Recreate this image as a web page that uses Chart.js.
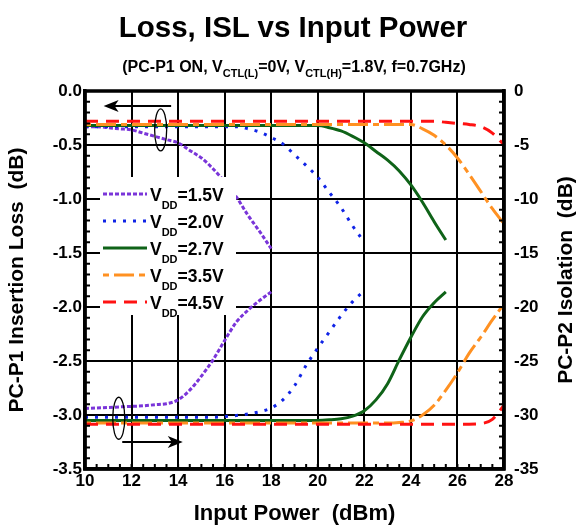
<!DOCTYPE html>
<html>
<head>
<meta charset="utf-8">
<script src="https://cdn.jsdelivr.net/npm/chart.js@4.4.0/dist/chart.umd.min.js"></script>
<style>
  html, body { margin: 0; padding: 0; background: #fff; }
  body { width: 580px; height: 527px; position: relative; overflow: hidden; font-family: "Liberation Sans", Arial, sans-serif; }
  #c { position: absolute; left: 0; top: 0; }
  .ttl { position: absolute; left: 0; width: 580px; text-align: center; font-weight: bold; color: #000; white-space: nowrap; line-height: 1; }
  #t1 { top: 12px; left: 3px; font-size: 29.5px; }
  #t2 { top: 59px; left: 4px; font-size: 16px; }
  #t2 sub { font-size: 11px; vertical-align: -5px; line-height: 0; }
</style>
</head>
<body>
<canvas id="c" width="580" height="527"></canvas>
<div class="ttl" id="t1">Loss, ISL vs Input Power</div>
<div class="ttl" id="t2">(PC-P1 ON, V<sub>CTL(L)</sub>=0V, V<sub>CTL(H)</sub>=1.8V, f=0.7GHz)</div>
<script>
// Input power (dBm)
const inputPower = [10, 10.5, 11, 11.5, 12, 12.5, 13, 13.5, 14, 14.5, 15, 15.5, 16, 16.5, 17, 17.5, 18, 18.5,
  19, 19.5, 20, 20.5, 21, 21.5, 22, 22.5, 23, 23.5, 24, 24.5, 25, 25.5, 26, 26.5, 27, 27.5, 28];

const vddLabels = ['1.5V', '2.0V', '2.7V', '3.5V', '4.5V'];

// PC-P1 insertion loss (dB), left axis
const loss15 = [-0.33, -0.33, -0.34, -0.35, -0.36, -0.39, -0.42, -0.45, -0.48, -0.55, -0.62, -0.72, -0.84, -0.98, -1.15, -1.30, -1.46];
const loss20 = [-0.33, -0.33, -0.33, -0.33, -0.33, -0.33, -0.33, -0.33, -0.33, -0.33, -0.33, -0.33, -0.33, -0.33,
  -0.35, -0.38, -0.43, -0.49, -0.59, -0.69, -0.80, -0.94, -1.08, -1.25, -1.40];
const loss27 = [-0.32, -0.32, -0.32, -0.32, -0.32, -0.32, -0.32, -0.32, -0.32, -0.32, -0.32, -0.32, -0.32, -0.32,
  -0.32, -0.32, -0.32, -0.32, -0.32, -0.32, -0.32, -0.34, -0.37, -0.42, -0.48, -0.56, -0.64, -0.74, -0.87, -1.03, -1.21, -1.38];
const loss35 = [-0.31, -0.31, -0.31, -0.31, -0.31, -0.31, -0.31, -0.31, -0.31, -0.31, -0.31, -0.31, -0.31, -0.31,
  -0.31, -0.31, -0.31, -0.31, -0.31, -0.31, -0.31, -0.31, -0.31, -0.31, -0.31, -0.31, -0.31, -0.31, -0.31,
  -0.35, -0.41, -0.50, -0.62, -0.77, -0.93, -1.09, -1.23];
const loss45 = [-0.28, -0.28, -0.28, -0.28, -0.28, -0.28, -0.28, -0.28, -0.28, -0.28, -0.28, -0.28, -0.28, -0.28,
  -0.28, -0.28, -0.28, -0.28, -0.28, -0.28, -0.28, -0.28, -0.28, -0.28, -0.28, -0.28, -0.28, -0.28, -0.28,
  -0.28, -0.28, -0.29, -0.30, -0.31, -0.33, -0.39, -0.50];

// PC-P2 isolation (dB), right axis
const isl15 = [-29.4, -29.35, -29.3, -29.25, -29.2, -29.15, -29.05, -28.95, -28.6, -27.7, -26.4, -24.9, -23.1, -21.4, -20.3, -19.4, -18.6];
const isl20 = [-30.2, -30.2, -30.2, -30.2, -30.2, -30.2, -30.2, -30.2, -30.2, -30.2, -30.2, -30.2,
  -30.15, -30.05, -29.9, -29.7, -29.35, -28.6, -27.3, -25.4, -23.8, -22.3, -20.8, -19.5, -18.5];
const isl27 = [-30.5, -30.5, -30.5, -30.5, -30.5, -30.5, -30.5, -30.5, -30.5, -30.5, -30.5, -30.5, -30.5, -30.5,
  -30.5, -30.5, -30.5, -30.5, -30.5, -30.5, -30.5, -30.45, -30.35, -30.1, -29.6, -28.6, -27.1, -24.9, -22.8, -20.9, -19.6, -18.6];
const isl35 = [-30.75, -30.75, -30.75, -30.75, -30.75, -30.75, -30.75, -30.75, -30.75, -30.75, -30.75, -30.75, -30.75, -30.75,
  -30.75, -30.75, -30.75, -30.75, -30.75, -30.75, -30.75, -30.75, -30.75, -30.75, -30.75, -30.75, -30.75,
  -30.7, -30.55, -30.0, -29.1, -27.7, -26.1, -24.3, -22.8, -21.2, -19.7];
const isl45 = [-30.85, -30.85, -30.85, -30.85, -30.85, -30.85, -30.85, -30.85, -30.85, -30.85, -30.85, -30.85, -30.85, -30.85,
  -30.85, -30.85, -30.85, -30.85, -30.85, -30.85, -30.85, -30.85, -30.85, -30.85, -30.85, -30.85, -30.85, -30.85, -30.85,
  -30.85, -30.85, -30.85, -30.85, -30.85, -30.8, -30.4, -29.1];

// tick labels
const lossTicks = [0, -0.5, -1, -1.5, -2, -2.5, -3, -3.5];
const islTicks = [0, -5, -10, -15, -20, -25, -30, -35];
const powerTicks = [10, 12, 14, 16, 18, 20, 22, 24, 26, 28];

const styles = [
  { color: '#7A35D9', dash: [4, 2] },          // 1.5V
  { color: '#1024E6', dash: [3, 7] },          // 2.0V
  { color: '#0F6318', dash: [] },              // 2.7V
  { color: '#FF9122', dash: [6, 5, 20, 5] },   // 3.5V
  { color: '#FF1212', dash: [13, 8] }          // 4.5V
];
const lossSeries = [loss15, loss20, loss27, loss35, loss45];
const islSeries = [isl15, isl20, isl27, isl35, isl45];
const drawOrder = [5, 4, 3, 2, 1];

function pts(vals) {
  return vals.map((v, i) => ({ x: inputPower[i], y: v }));
}

const datasets = [];
lossSeries.forEach((s, i) => datasets.push({
  label: 'Loss VDD=' + vddLabels[i], data: pts(s), yAxisID: 'y',
  borderColor: styles[i].color, borderDash: styles[i].dash, borderWidth: 3,
  pointRadius: 0, cubicInterpolationMode: 'monotone', fill: false, order: drawOrder[i]
}));
islSeries.forEach((s, i) => datasets.push({
  label: 'ISL VDD=' + vddLabels[i], data: pts(s), yAxisID: 'y1',
  borderColor: styles[i].color, borderDash: styles[i].dash, borderWidth: 3,
  pointRadius: 0, cubicInterpolationMode: 'monotone', fill: false, order: drawOrder[i]
}));

const FONT = '"Liberation Sans", Arial, sans-serif';
const tickFont = { family: FONT, size: 17, weight: 'bold' };

function arrow(ctx, x1, y1, x2, y2) {
  const dir = Math.sign(x2 - x1);
  ctx.beginPath();
  ctx.moveTo(x1, y1);
  ctx.lineTo(x2 - dir * 10, y2);
  ctx.stroke();
  ctx.beginPath();
  ctx.moveTo(x2, y2);
  ctx.lineTo(x2 - dir * 15, y2 - 6);
  ctx.lineTo(x2 - dir * 11, y2);
  ctx.lineTo(x2 - dir * 15, y2 + 6);
  ctx.closePath();
  ctx.fill();
}

// minor ticks, frame, legend, arrows and right title
const decor = {
  id: 'decor',
  afterDraw(chart) {
    const { ctx, chartArea: a, scales } = chart;
    const sx = scales.x, sy = scales.y, sy1 = scales.y1;
    ctx.save();
    ctx.strokeStyle = '#000';
    ctx.fillStyle = '#000';
    ctx.lineWidth = 2;
    ctx.beginPath();
    for (let k = 0; k <= 35; k++) {
      const p = sy.getPixelForValue(-k / 10);
      ctx.moveTo(a.left, p); ctx.lineTo(a.left + 5, p);
    }
    for (let k = 0; k <= 35; k++) {
      const p = sy1.getPixelForValue(-k);
      ctx.moveTo(a.right, p); ctx.lineTo(a.right - 5, p);
    }
    for (let k = 0; k <= 36; k++) {
      const p = sx.getPixelForValue(10 + k / 2);
      ctx.moveTo(p, a.bottom); ctx.lineTo(p, a.bottom - 5);
    }
    ctx.stroke();
    ctx.lineWidth = 3.5;
    ctx.strokeRect(a.left, a.top, a.right - a.left, a.bottom - a.top);

    // arrows + loops marking which axis each group belongs to
    ctx.lineWidth = 2;
    arrow(ctx, sx.getPixelForValue(13.7), sy.getPixelForValue(-0.14), sx.getPixelForValue(10.8), sy.getPixelForValue(-0.14));
    arrow(ctx, sx.getPixelForValue(11.6), sy1.getPixelForValue(-32.5), sx.getPixelForValue(14.2), sy1.getPixelForValue(-32.5));
    ctx.lineWidth = 1.3;
    ctx.beginPath();
    ctx.ellipse(sx.getPixelForValue(13.25), sy.getPixelForValue(-0.36), 6, 21, 0, 0, Math.PI * 2);
    ctx.stroke();
    ctx.beginPath();
    ctx.ellipse(sx.getPixelForValue(11.45), sy1.getPixelForValue(-30.3), 6, 21, 0, 0, Math.PI * 2);
    ctx.stroke();

    // legend
    const lx = a.left + 15, ly = a.top + 86;
    ctx.fillStyle = '#fff';
    ctx.fillRect(lx, ly, 136, 138);
    ctx.textBaseline = 'alphabetic';
    vddLabels.forEach((lab, i) => {
      const cy = ly + 17 + i * 27;
      ctx.strokeStyle = styles[i].color;
      ctx.setLineDash(styles[i].dash);
      ctx.lineWidth = 3;
      ctx.beginPath();
      ctx.moveTo(lx + 3, cy); ctx.lineTo(lx + 47, cy);
      ctx.stroke();
      ctx.setLineDash([]);
      ctx.fillStyle = '#000';
      ctx.font = 'bold 17.5px ' + FONT;
      let tx = lx + 50;
      ctx.fillText('V', tx, cy + 7);
      tx += ctx.measureText('V').width;
      ctx.font = 'bold 11px ' + FONT;
      ctx.fillText('DD', tx, cy + 15);
      tx += ctx.measureText('DD').width;
      ctx.font = 'bold 17.5px ' + FONT;
      ctx.fillText('=' + lab, tx, cy + 7);
    });

    // right axis title, reading bottom to top
    ctx.fillStyle = '#000';
    ctx.font = 'bold 21px ' + FONT;
    ctx.textAlign = 'center';
    ctx.textBaseline = 'middle';
    ctx.translate(566, (a.top + a.bottom) / 2);
    ctx.rotate(-Math.PI / 2);
    ctx.fillText('PC-P2 Isolation  (dB)', 0, 0);
    ctx.restore();
  }
};

new Chart(document.getElementById('c'), {
  type: 'line',
  data: { datasets },
  options: {
    responsive: false,
    animation: false,
    layout: { padding: { top: 91, left: 0, right: 0, bottom: 0 } },
    plugins: { legend: { display: false }, tooltip: { enabled: false } },
    scales: {
      x: {
        type: 'linear', min: 10, max: 28,
        afterBuildTicks: s => { s.ticks = powerTicks.map(v => ({ value: v })); },
        afterFit: s => { s.height = 58; },
        ticks: { color: '#000', font: tickFont, padding: 2, maxRotation: 0 },
        grid: { color: '#000', lineWidth: 2, drawTicks: false },
        border: { color: '#000', width: 3.5 },
        title: { display: true, text: 'Input Power  (dBm)', color: '#000',
                 font: { family: FONT, size: 22, weight: 'bold' }, padding: { top: 0, bottom: 0 } }
      },
      y: {
        position: 'left', min: -3.5, max: 0,
        afterBuildTicks: s => { s.ticks = lossTicks.map(v => ({ value: v })); },
        afterFit: s => { s.width = 85; },
        ticks: { color: '#000', font: tickFont, padding: 3, callback: v => v.toFixed(1) },
        grid: { color: '#000', lineWidth: 2, drawTicks: false },
        border: { color: '#000', width: 3.5 },
        title: { display: true, text: 'PC-P1 Insertion Loss  (dB)', color: '#000',
                 font: { family: FONT, size: 21, weight: 'bold' }, padding: { top: 5, bottom: 0 } }
      },
      y1: {
        position: 'right', min: -35, max: 0,
        afterBuildTicks: s => { s.ticks = islTicks.map(v => ({ value: v })); },
        afterFit: s => { s.width = 76; },
        ticks: { color: '#000', font: tickFont, padding: 10 },
        grid: { drawOnChartArea: false, drawTicks: false },
        border: { color: '#000', width: 3.5 }
      }
    }
  },
  plugins: [decor]
});
</script>
</body>
</html>
